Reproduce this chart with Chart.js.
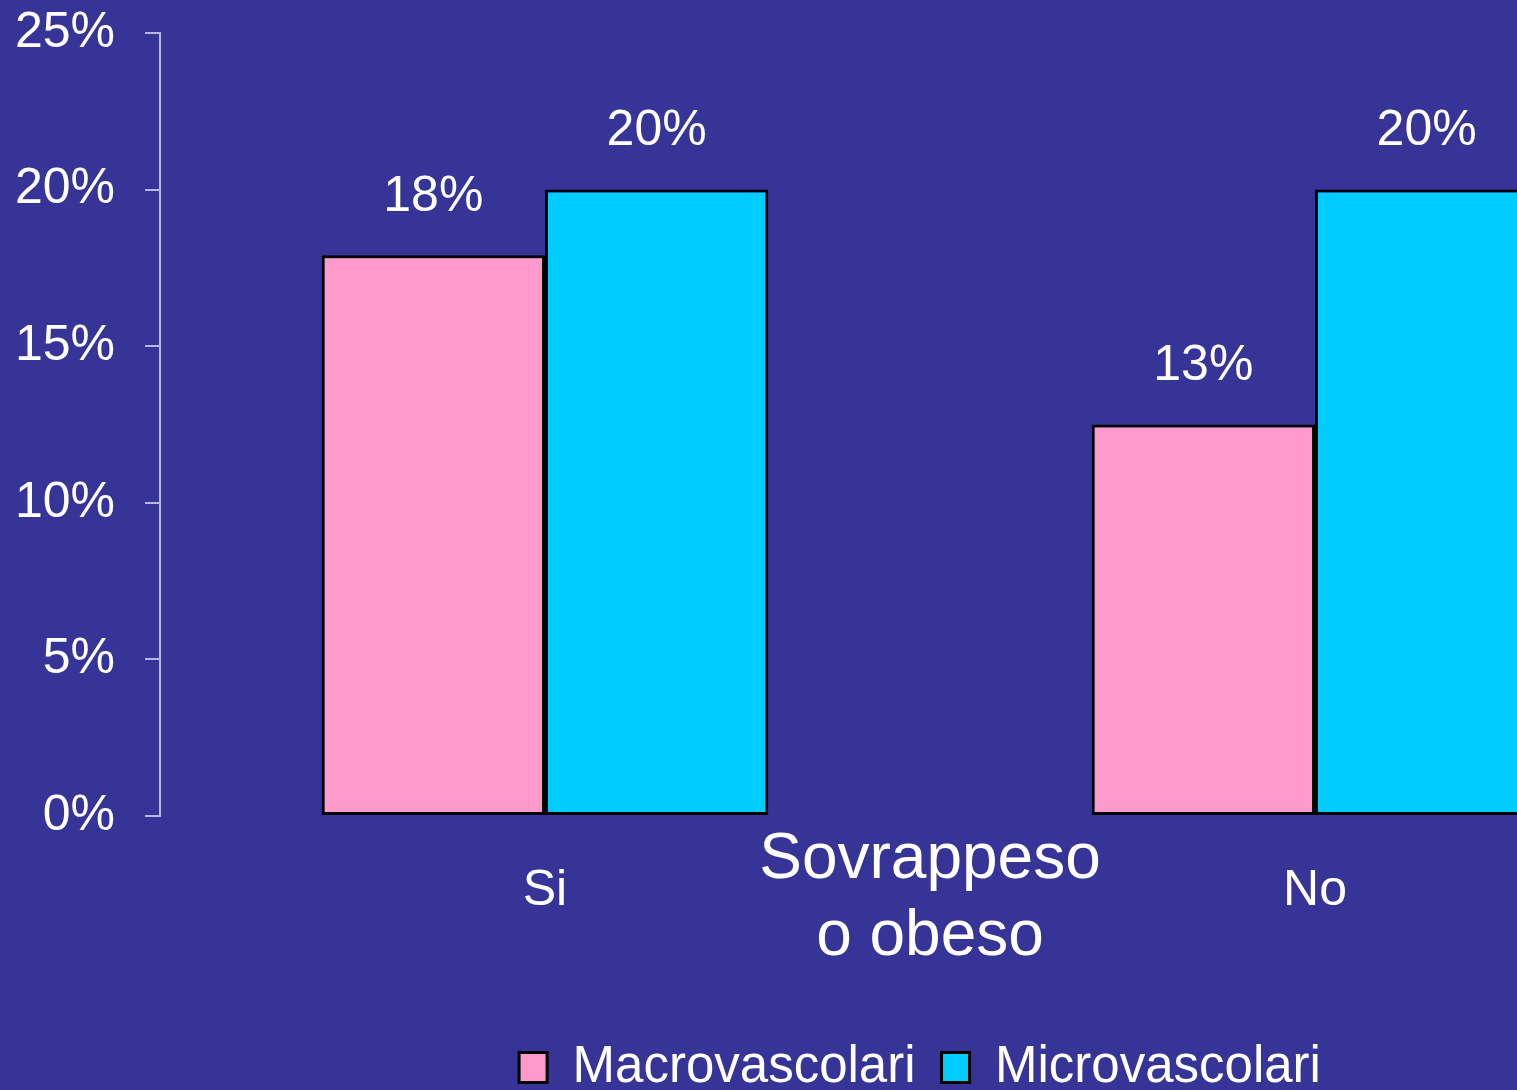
<!DOCTYPE html>
<html>
<head>
<meta charset="utf-8">
<script src="https://cdn.jsdelivr.net/npm/chart.js@4.4.1/dist/chart.umd.min.js"></script>
<style>
  html, body { margin: 0; padding: 0; overflow: hidden; background: #363597; }
  #wrap { position: absolute; left: 0; top: 0; }
</style>
</head>
<body>
<div id="wrap"><canvas id="chart" width="1840" height="1103"></canvas></div>
<script>
// data
const categories = ["Si", "No"];
const macroValues = [17.9, 12.5];
const microValues = [20, 20];
const yTicks = [0, 5, 10, 15, 20, 25];
const axisTitle = ["Sovrappeso", "o obeso"];

const FONT = "'Liberation Sans', Arial, sans-serif";

// value labels above the bars (Excel style, rounded)
const valueLabels = {
    id: "valueLabels",
    afterDatasetsDraw(chart) {
        const ctx = chart.ctx;
        ctx.save();
        ctx.fillStyle = "#ffffff";
        ctx.font = "50px " + FONT;
        ctx.textAlign = "center";
        ctx.textBaseline = "middle";
        chart.data.datasets.forEach((ds, i) => {
            chart.getDatasetMeta(i).data.forEach((bar, j) => {
                ctx.fillText(Math.round(ds.data[j]) + "%", bar.x, bar.y - 58);
            });
        });
        ctx.restore();
    }
};

const ctx = document.getElementById("chart").getContext("2d");
new Chart(ctx, {
    type: "bar",
    data: {
        labels: categories,
        datasets: [
            {
                label: "Macrovascolari",
                data: macroValues,
                backgroundColor: "#FF99CC",
                borderColor: "#000000",
                borderWidth: 3,
                borderSkipped: false
            },
            {
                label: "Microvascolari",
                data: microValues,
                backgroundColor: "#00CCFF",
                borderColor: "#000000",
                borderWidth: 3,
                borderSkipped: false
            }
        ]
    },
    options: {
        responsive: false,
        animation: false,
        layout: { padding: { top: 33, left: 0, right: 0, bottom: 0 } },
        datasets: {
            bar: { categoryPercentage: 0.58, barPercentage: 1 }
        },
        scales: {
            x: {
                grid: { display: false },
                border: { display: false },
                ticks: {
                    color: "#ffffff",
                    font: { size: 50, family: FONT },
                    padding: 37
                },
                title: {
                    display: true,
                    text: axisTitle,
                    color: "#ffffff",
                    font: { size: 64, family: FONT, lineHeight: 1.2 },
                    padding: { top: 0, bottom: 40 }
                },
                afterFit(scale) { scale.height = 200; }
            },
            y: {
                min: 0,
                max: 25,
                afterBuildTicks(scale) {
                    scale.ticks = yTicks.map(v => ({ value: v }));
                },
                grid: {
                    drawOnChartArea: false,
                    tickLength: 15,
                    color: "#B8B8DC",
                    lineWidth: 2
                },
                border: { display: true, color: "#B8B8DC", width: 2 },
                ticks: {
                    color: "#ffffff",
                    font: { size: 50, family: FONT },
                    padding: 30,
                    callback: v => v + "%"
                },
                afterFit(scale) {
                    scale.width = 160;
                    scale.paddingTop = 0;
                    scale.paddingBottom = 0;
                }
            },
            // empty right axis: the original plot runs past the picture edge
            y2: {
                position: "right",
                display: true,
                grid: { display: false },
                border: { display: false },
                ticks: { display: false },
                afterFit(scale) {
                    scale.width = 140;
                    scale.paddingTop = 0;
                    scale.paddingBottom = 0;
                }
            }
        },
        plugins: {
            legend: {
                position: "bottom",
                labels: {
                    color: "#ffffff",
                    font: { size: 51, family: FONT },
                    boxWidth: 28,
                    boxHeight: 30,
                    padding: 26
                }
            },
            tooltip: { enabled: false }
        }
    },
    plugins: [valueLabels]
});
</script>
</body>
</html>
